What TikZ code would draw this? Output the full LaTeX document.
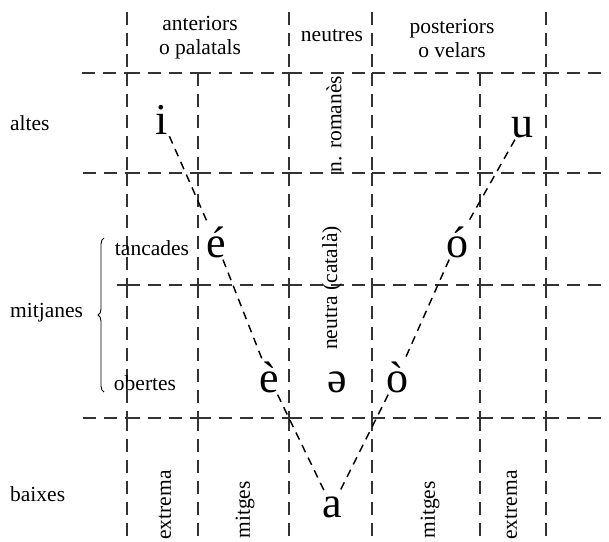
\documentclass[tikz,border=0pt]{standalone}
\usepackage{fontspec}
\setmainfont{Liberation Serif}
\usetikzlibrary{decorations.pathreplacing}
\begin{document}
\begin{tikzpicture}[x=1pt,y=-1pt,
  grid/.style={draw=black!80, line width=1.15pt, dash pattern=on 13pt off 8pt},
  link/.style={draw=black, line width=1.45pt, dash pattern=on 8pt off 6pt},
  txt/.style={font=\fontsize{21.5}{24}\selectfont, inner sep=0pt},
  vow/.style={font=\fontsize{44}{48}\selectfont, inner sep=2pt, anchor=base},
  rot/.style={txt, rotate=90}
]
\useasboundingbox (0,0) rectangle (609,541);
% vertical grid lines
\foreach \x/\ys in {127/{12,73,173,285,418,541}, 198/{73,173,285,418,541},
                    289/{12,73,173,285,418,541}, 372/{12,73,173,285,418,541},
                    480/{73,173,285,418,541}, 546/{12,73,173,285,418,541}}{
  \def\prev{}
  \foreach \y in \ys {
    \ifx\prev\empty\else \path[grid] (\x,\prev) -- (\x,\y);\fi
    \xdef\prev{\y}
  }
}
% horizontal grid lines
\foreach \y/\xs in {73/{82,127,198,289,372,480,546,609}, 173/{83,127,198,289,372,480,546,609},
                    285/{117,127,198,289,372,480,546,609}, 418/{83,127,198,289,372,480,546,609}}{
  \def\prev{}
  \foreach \x in \xs {
    \ifx\prev\empty\else \path[grid] (\prev,\y) -- (\x,\y);\fi
    \xdef\prev{\x}
  }
}
% headers
\node[txt, align=center] (ant) at (200,38) {anteriors\\o palatals};
\node[txt] (neu) at (332,36) {neutres};
\node[txt, align=center] (pos) at (452,38) {posteriors\\o velars};
% row labels
\node[txt, anchor=base west] (alt) at (10,130) {altes};
\node[txt, anchor=base] (tan) at (152,255) {tancades};
\node[txt, anchor=west] (mit) at (10,313) {mitjanes};
\node[txt, anchor=base] (obe) at (145,390) {obertes};
\node[txt, anchor=west] (bai) at (10,494) {baixes};
\draw[line width=0.9pt, decorate, decoration={brace, amplitude=6pt}] (104,392) -- (104,238);
% rotated labels
\node[rot] (rom) at (334,124) {n. romanès};
\node[rot] (cat) at (332,288) {neutra (català)};
\node[rot] (ex1) at (165,505) {extrema};
\node[rot] (mi1) at (245,510) {mitges};
\node[rot] (mi2) at (430,510) {mitges};
\node[rot] (ex2) at (511,505) {extrema};
% vowels
\node[vow] (i) at (162,134) {i};
\node[vow] (u) at (522,137) {u};
\node[vow] (e1) at (216,257) {é};
\node[vow] (o1) at (457,257) {ó};
\node[vow] (e2) at (269,392) {è};
\node[vow] (sc) at (337,392) {ə};
\node[vow] (o2) at (397,392) {ò};
\node[vow] (a) at (332,517) {a};
% connectors
\path[link] (i) -- (e1);
\path[link] (e1) -- (e2);
\path[link] (e2) -- (a);
\path[link] (u) -- (o1);
\path[link] (o1) -- (o2);
\path[link] (o2) -- (a);
\end{tikzpicture}
\end{document}
